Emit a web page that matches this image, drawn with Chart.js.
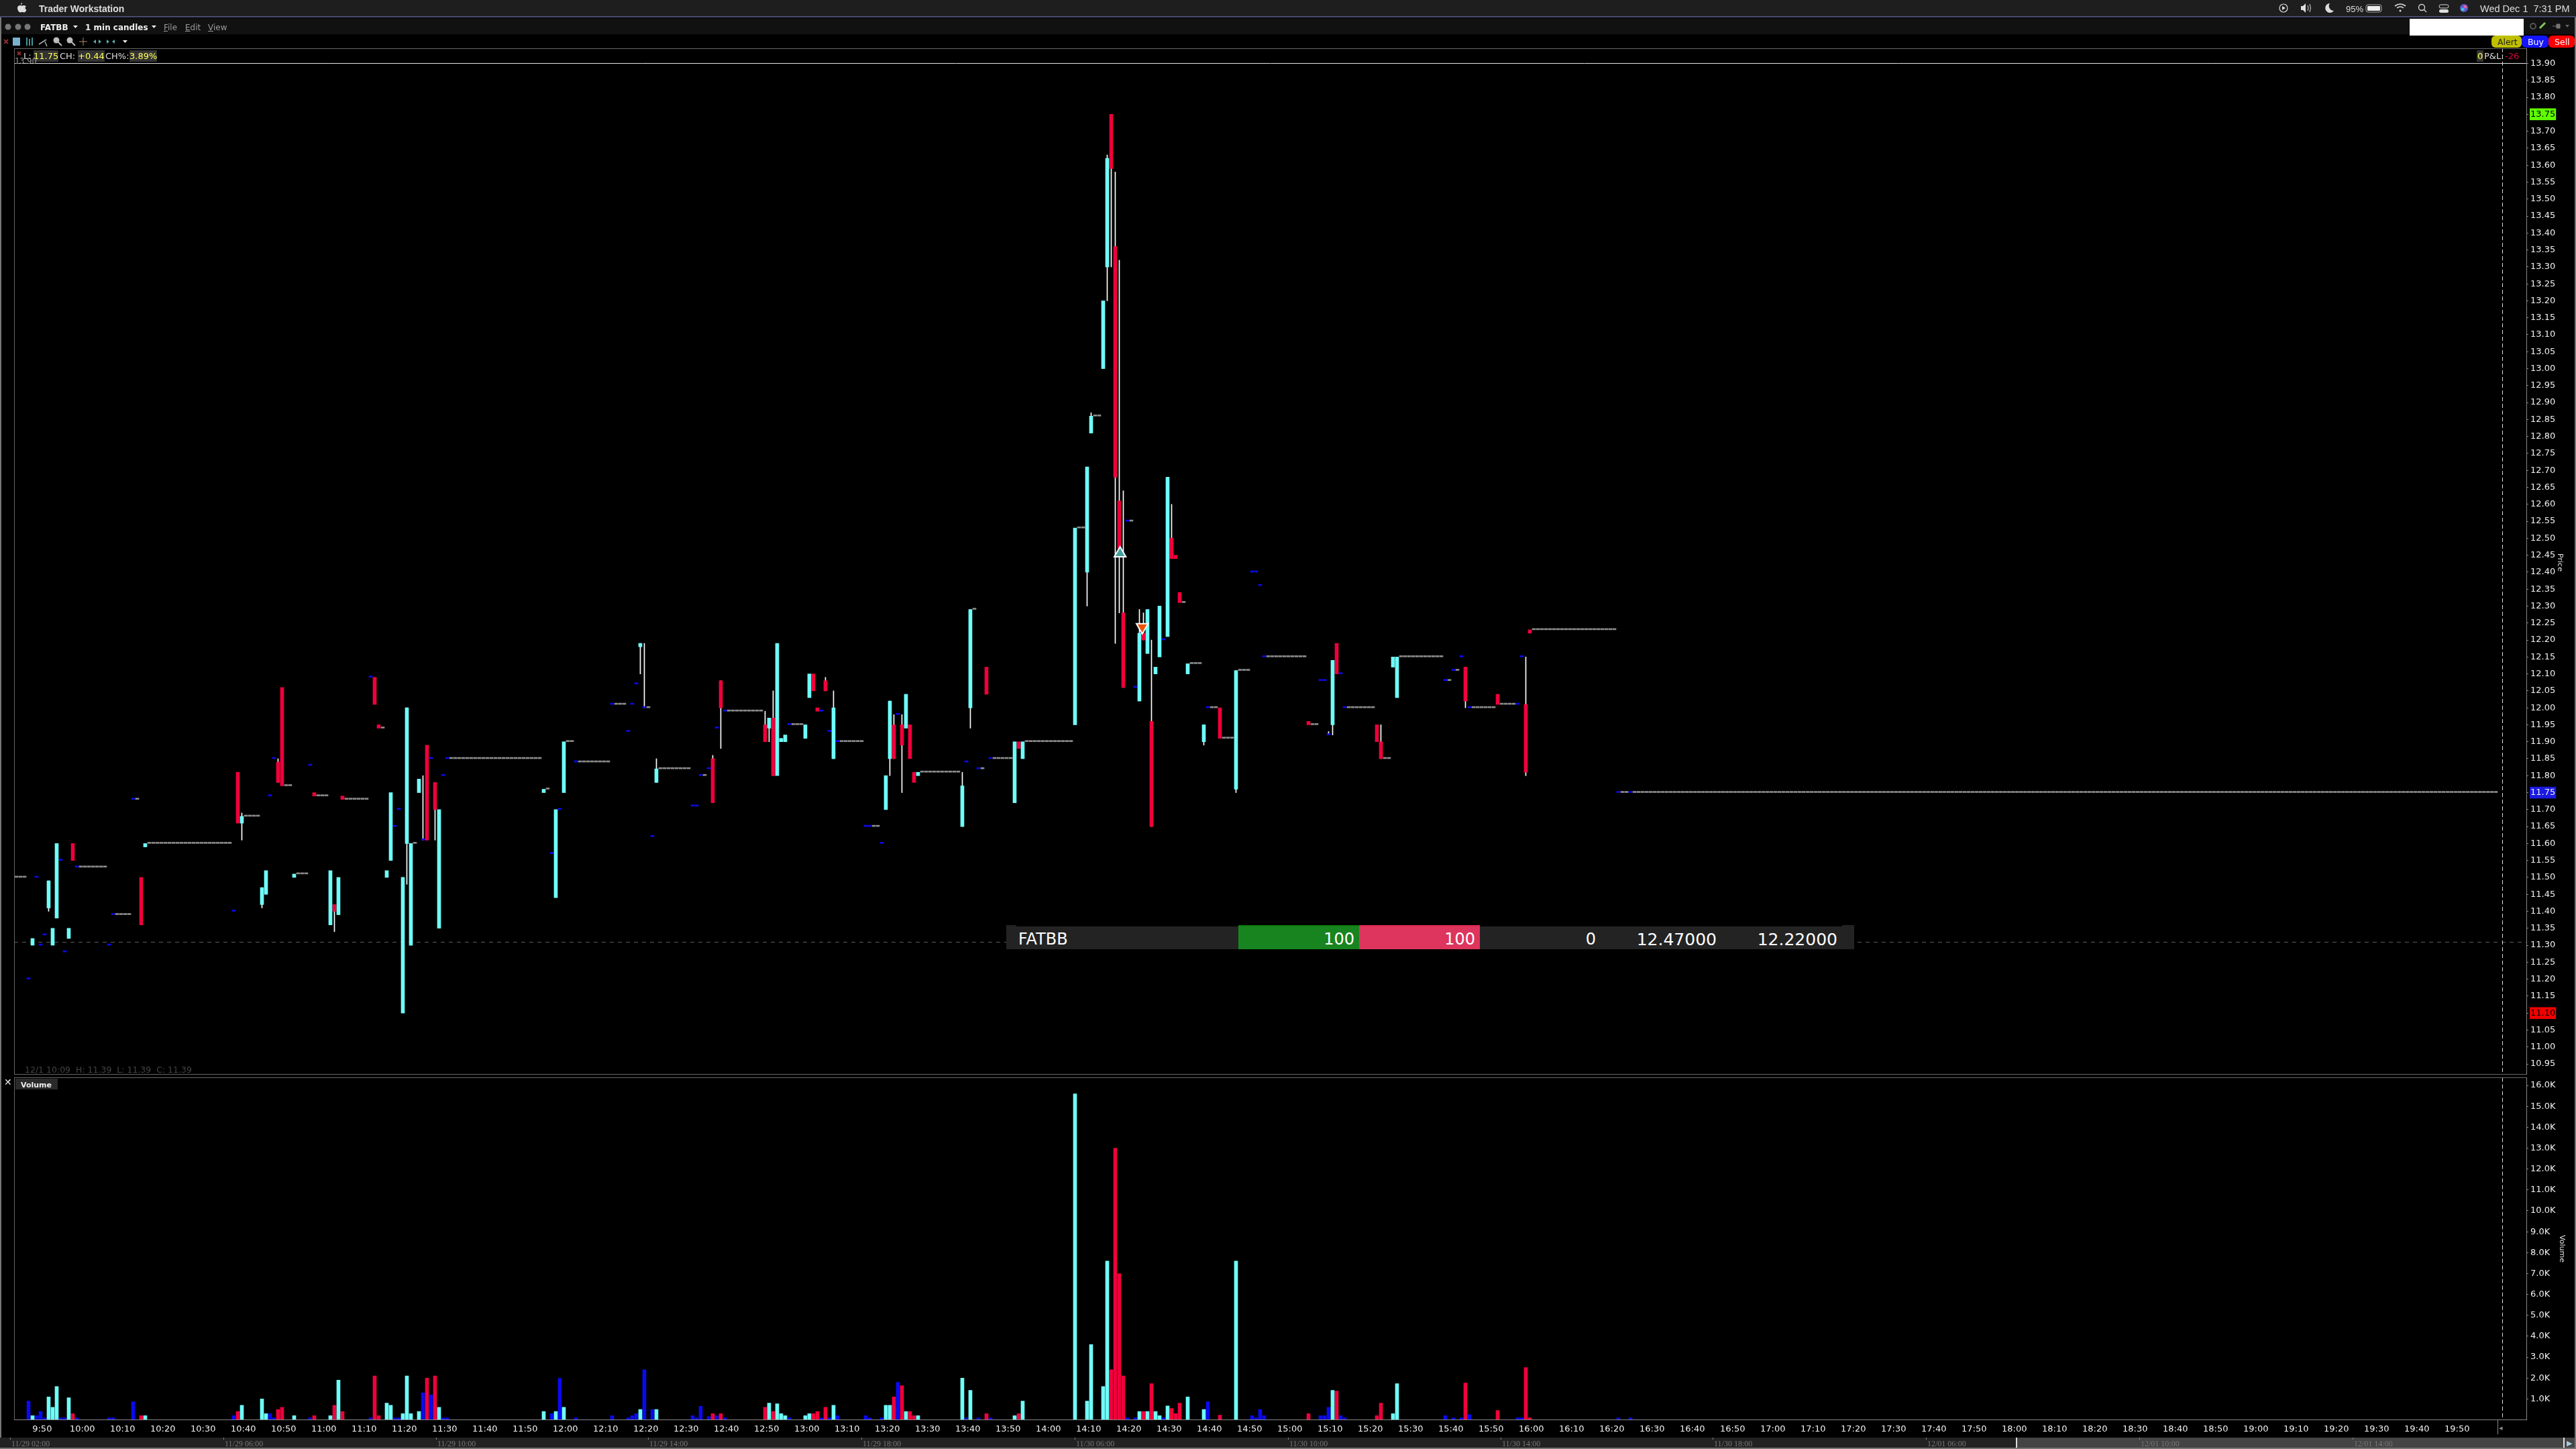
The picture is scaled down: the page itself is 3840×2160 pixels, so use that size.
<!DOCTYPE html>
<html><head><meta charset="utf-8"><title>FATBB 1 min candles</title>
<script src="https://cdn.jsdelivr.net/npm/chart.js@4/dist/chart.umd.min.js"></script>
<style>
html,body{margin:0;background:#000;width:3840px;height:2160px;overflow:hidden;font-family:"DejaVu Sans",sans-serif}
canvas{position:absolute;left:0}
.b{position:absolute}
.t{position:absolute;white-space:pre;line-height:1}
.hl{position:absolute;white-space:pre;line-height:1;background:#333;color:#ff5;padding:1px 0;font:13px 'DejaVu Sans';top:75px}
.s{position:absolute;white-space:pre;line-height:1;color:#ddd;font:13px 'DejaVu Sans';top:76px}
u{text-decoration-thickness:1px}
svg{position:absolute;left:0;top:0}
</style></head><body>
<div class="b" style="left:0;top:0;width:3840px;height:24px;background:#1e1e1e"></div>
<div class="b" style="left:0;top:24px;width:3840px;height:2px;background:#4a4a70"></div>
<div class="b" style="left:0;top:27px;width:3840px;height:24px;background:#111"></div>
<div class="b" style="left:0;top:26px;width:2px;height:2134px;background:#777"></div>
<div class="b" style="left:3838px;top:26px;width:2px;height:2134px;background:#777"></div>
<div class="b" style="left:3592px;top:28px;width:170px;height:25px;background:#fff"></div>

<canvas id="priceCanvas" width="3840" height="1604" style="top:0"></canvas>
<canvas id="volumeCanvas" width="3840" height="556" style="top:1604px"></canvas>

<!-- frames -->
<div class="b" style="left:21px;top:72px;width:3745px;height:1px;background:#666"></div>
<div class="b" style="left:21px;top:72px;width:1px;height:1530px;background:#666"></div>
<div class="b" style="left:21px;top:1601px;width:3745px;height:1px;background:#666"></div>
<div class="b" style="left:21px;top:1606px;width:3745px;height:1px;background:#666"></div>
<div class="b" style="left:21px;top:1606px;width:1px;height:511px;background:#666"></div>
<div class="b" style="left:21px;top:2116px;width:3745px;height:1px;background:#888"></div>

<svg width="3840" height="2160" xmlns="http://www.w3.org/2000/svg">
 <path d="M33 4c-1 0-2 1-2 3 1 0 2-1 2-3zM26 12c0-3 2-4 4-4 1 0 2 .6 3 .6s2-.6 3-.6c1 0 2 .5 3 1.500-2 1-2 4 .5 5-.7 2-2 4-3.500 4-1 0-1.500-.6-3-.6s-2 .6-3 .6c-2 0-4-4-4-6.500z" fill="#ddd"/>
 <g fill="#777"><circle cx="12" cy="40" r="4.500"/><circle cx="27" cy="40" r="4.500"/><circle cx="41" cy="40" r="4.500"/></g>
 <g fill="#eee"><path d="M109 38h7l-3.500 4zM226 38h7l-3.500 4z"/></g>
 <g stroke="#8a3030" stroke-width="2"><path d="M6 59l6 6M12 59l-6 6M26 77l5 5M31 77l-5 5"/></g>
 <rect x="19" y="56" width="11" height="12" fill="#7ab0d0"/>
 <g stroke="#5ac8c8" stroke-width="1.500"><path d="M40 56v12M44 58v10M48 56v12"/></g>
 <path d="M58 66l11-7M67 62l3 7" stroke="#aaa" stroke-width="1.500" fill="none"/>
 <g fill="#bbb"><circle cx="84" cy="60" r="4.500"/><circle cx="104" cy="60" r="4.500"/></g>
 <path d="M87 63l5 5M107 63l5 5" stroke="#bbb" stroke-width="2"/>
 <path d="M118 62h12M124 56v12" stroke="#b98c60" stroke-width="1"/>
 <g fill="#5ab0b0"><path d="M139 62l4-3v6zM151 62l-4-3v6zM159 59l4 3-4 3zM171 59l-4 3 4 3z"/></g>
 <path d="M183 60h7l-3.500 4z" fill="#eee"/>
 <!-- status icons -->
 <circle cx="3404" cy="12" r="6" fill="none" stroke="#ddd" stroke-width="1.200"/><path d="M3402 9l5 3-5 3z" fill="#ddd"/>
 <path d="M3430 9h3l4-4v14l-4-4h-3z" fill="#ddd"/><path d="M3440 8q2 4 0 8M3443 6q3 6 0 12" fill="none" stroke="#ddd"/>
 <path d="M3473 5a7 7 0 1 0 6 11a7 7 0 0 1-6-11z" fill="#ddd"/>
 <rect x="3527" y="7" width="23" height="11" rx="3" fill="none" stroke="#aaa"/><rect x="3529" y="9" width="19" height="7" rx="1" fill="#eee"/>
 <path d="M3570 9q8-6 16 0M3573 12q5-4 10 0" fill="none" stroke="#ddd" stroke-width="1.600"/><circle cx="3578" cy="16" r="1.500" fill="#ddd"/>
 <circle cx="3610" cy="11" r="4.500" fill="none" stroke="#ddd" stroke-width="1.300"/><path d="M3613 14l4 4" stroke="#ddd" stroke-width="1.300"/>
 <rect x="3636" y="7" width="14" height="5" rx="2.500" fill="none" stroke="#ddd"/><rect x="3636" y="14" width="14" height="5" rx="2.500" fill="#ddd"/>
 <circle cx="3673" cy="12" r="6" fill="#5a5ad0"/><circle cx="3671" cy="14" r="2.500" fill="#40c0d8"/><circle cx="3675" cy="10" r="2.500" fill="#e060a0"/>
 <circle cx="3776" cy="39" r="4" fill="none" stroke="#555" stroke-width="2"/>
 <path d="M3786 42l8-8" stroke="#7fc860" stroke-width="3"/>
 <path d="M3805 39h12M3811 36h5v6h-5z" stroke="#777" fill="#777"/><path d="M3824 37h6l-3 4z" fill="#666"/>
 <rect x="3714" y="53" width="45" height="18" rx="6" fill="#bfbf00"/>
 <rect x="3759" y="53" width="40" height="18" rx="6" fill="#1414ff"/>
 <rect x="3799" y="53" width="39" height="18" rx="6" fill="#f00"/>
 <path d="M5 2150l6-5v10z" fill="#9ab"/>
</svg>

<div class="t" style="left:58px;top:5px;font:bold 14px 'Liberation Sans';color:#ddd">Trader Workstation</div>
<div class="t" style="left:3497px;top:6px;font:13px 'Liberation Sans';color:#ddd">95%</div>
<div class="t" style="left:3697px;top:5px;font:14.500px 'Liberation Sans';color:#ddd">Wed Dec 1  7:31 PM</div>
<div class="t" style="left:60px;top:34px;font:bold 12px 'DejaVu Sans';color:#eee">FATBB</div>
<div class="t" style="left:127px;top:34px;font:bold 12px 'DejaVu Sans';color:#eee">1 min candles</div>
<div class="t" style="left:244px;top:34px;font:12px 'DejaVu Sans';color:#999"><u>F</u>ile</div>
<div class="t" style="left:276px;top:34px;font:12px 'DejaVu Sans';color:#999"><u>E</u>dit</div>
<div class="t" style="left:310px;top:34px;font:12px 'DejaVu Sans';color:#999"><u>V</u>iew</div>
<div class="t" style="left:3723px;top:55px;font:12.500px 'DejaVu Sans';color:#222">Alert</div>
<div class="t" style="left:3768px;top:55px;font:12.500px 'DejaVu Sans';color:#fff">Buy</div>
<div class="t" style="left:3808px;top:55px;font:12.500px 'DejaVu Sans';color:#fff">Sell</div>

<div class="s" style="left:35px">L:</div><div class="hl" style="left:50px">11.75</div>
<div class="s" style="left:89px">CH:</div><div class="hl" style="left:116px">+0.44</div>
<div class="s" style="left:157px">CH%:</div><div class="hl" style="left:193px">3.89%</div>
<div class="t" style="left:22px;top:84px;font:11.500px 'DejaVu Sans';color:#999">13.90</div>
<div class="hl" style="left:3692px;padding:1px 1px">0</div>
<div class="s" style="left:3703px">P&amp;L:</div>
<div class="t" style="left:3734px;top:76px;font:13px 'DejaVu Sans';color:#e0003c">-26</div>

<div class="t" style="left:37px;top:1587px;font:12.500px 'DejaVu Sans';color:#444">12/1 10:09  H: 11.39  L: 11.39  C: 11.39</div>
<div class="b" style="left:23px;top:1608px;width:63px;height:16px;background:#2a2a2a"></div>
<div class="t" style="left:31px;top:1611px;font:bold 11px 'DejaVu Sans';color:#eee">Volume</div>
<div class="t" style="left:6px;top:1605px;font:bold 14px 'DejaVu Sans';color:#eee">✕</div>
<div class="t" style="left:3803px;top:832px;font:11px 'DejaVu Sans';color:#ddd;transform:rotate(90deg)">Price</div>
<div class="t" style="left:3799px;top:1855px;font:11px 'DejaVu Sans';color:#ddd;transform:rotate(90deg)">Volume</div>

<!-- order bar -->
<div class="b" style="left:1500px;top:1379px;width:15px;height:3px;background:#222"></div>
<div class="b" style="left:2746px;top:1379px;width:18px;height:3px;background:#222"></div>
<div class="b" style="left:1500px;top:1381px;width:1264px;height:34px;background:#232323"></div>
<div class="b" style="left:1846px;top:1379px;width:180px;height:36px;background:#188420;border-top:2px solid #0b7a0b;box-sizing:border-box"></div>
<div class="b" style="left:2026px;top:1379px;width:180px;height:36px;background:#dd355d;border-top:2px solid #e0284f;box-sizing:border-box"></div>
<div class="t" style="left:1518px;top:1386px;font:24px 'DejaVu Sans';color:#fff">FATBB</div>
<div class="t" style="right:1821px;top:1386px;font:24px 'DejaVu Sans';color:#fff">100</div>
<div class="t" style="right:1641px;top:1386px;font:24px 'DejaVu Sans';color:#fff">100</div>
<div class="t" style="right:1461px;top:1386px;font:24px 'DejaVu Sans';color:#fff">0</div>
<div class="t" style="right:1281px;top:1386px;font:25px 'DejaVu Sans';color:#fff">12.47000</div>
<div class="t" style="right:1101px;top:1386px;font:25px 'DejaVu Sans';color:#fff">12.22000</div>

<!-- scroller -->
<div class="b" style="left:0;top:2143px;width:3007px;height:15px;background:#222"></div>
<div class="b" style="left:3007px;top:2143px;width:831px;height:15px;background:#444"></div>
<div class="b" style="left:0;top:2158px;width:3840px;height:2px;background:#777"></div>
<div class="b" style="left:3005px;top:2143px;width:2px;height:15px;background:#ddd"></div>
<div class="b" style="left:3821px;top:2143px;width:2px;height:15px;background:#ddd"></div>
<div class="b" style="left:3723px;top:2116px;width:1px;height:22px;background:#888"></div>
<div class="t" style="left:3725px;top:2122px;font:11px 'DejaVu Sans';color:#888">◂</div>
<div class="t" style="left:3826px;top:2145px;font:11px 'DejaVu Sans';color:#acd">▶</div>
<div id="navLabels"></div>

<script>
// Minutes from 9:47 on the 1-minute chart (traded bars only)
const firstMinute = 587;
const barIdx = [
0,1,2,3,4,5,6,7,8,9,
10,11,12,20,21,26,28,29,51,52,
53,58,59,60,61,62,63,66,70,71,
75,76,77,78,85,86,87,89,90,91,
92,93,94,95,97,98,99,100,101,102,
103,104,128,130,131,132,133,136,145,149,
150,151,152,153,155,156,165,166,167,169,
170,171,172,173,183,184,185,186,187,188,
189,193,194,195,196,197,198,199,200,201,
208,209,212,213,214,215,216,217,218,219,
220,221,232,233,234,236,238,239,245,246,
247,260,263,264,267,268,269,270,271,272,
273,275,276,277,278,279,280,281,282,283,
284,285,286,288,292,293,296,300,304,305,
306,307,318,321,322,323,324,325,326,327,
335,336,339,340,352,354,356,357,358,365,
370,371,372,373,395,398];
const opens = [
11.20,11.30,11.50,11.30,11.33,11.41,11.30,11.38,11.55,11.28,
11.32,11.60,11.53,11.30,11.39,11.73,11.50,11.59,11.40,11.81,
11.66,11.42,11.45,11.74,11.85,11.84,12.06,11.50,11.83,11.75,
11.36,11.42,11.39,11.74,12.09,12.09,11.95,11.50,11.55,11.65,
11.70,11.10,11.60,11.30,11.75,11.61,11.89,11.85,11.78,11.35,
11.80,11.85,11.75,11.57,11.44,11.70,11.75,11.84,12.01,11.93,
12.01,12.07,12.18,12.00,11.62,11.78,11.71,11.71,11.80,11.82,
11.85,11.94,12.08,11.99,11.95,11.94,11.97,11.80,11.90,11.90,
11.95,11.91,12.03,12.10,12.00,11.99,12.08,11.93,11.85,11.90,
11.65,11.65,11.60,11.70,11.85,11.95,11.98,11.95,11.94,11.95,
11.81,11.80,11.65,11.84,12.00,11.82,12.12,11.85,11.72,11.90,
11.85,11.95,12.40,12.81,13.00,13.30,13.75,13.36,12.61,12.28,
12.55,12.06,12.02,12.22,12.16,11.96,12.10,12.15,12.20,12.21,
12.50,12.45,12.34,12.10,11.90,12.00,12.00,11.76,12.40,12.40,
12.36,12.15,11.96,12.08,12.08,11.92,11.95,12.19,12.10,12.00,
11.95,11.90,12.12,12.03,12.08,12.11,12.15,12.12,12.00,12.04,
12.01,12.15,12.01,12.23,11.75,11.75];
const closes = [
11.20,11.32,11.50,11.30,11.33,11.49,11.35,11.60,11.55,11.28,
11.35,11.55,11.53,11.30,11.39,11.73,11.36,11.60,11.40,11.66,
11.68,11.47,11.52,11.74,11.85,11.78,11.77,11.51,11.83,11.74,
11.52,11.40,11.50,11.73,12.09,12.01,11.94,11.52,11.75,11.65,
11.70,11.50,12.00,11.60,11.79,11.61,11.61,11.85,11.70,11.70,
11.80,11.85,11.76,11.57,11.70,11.70,11.90,11.84,12.01,11.93,
12.01,12.07,12.19,12.00,11.62,11.82,11.71,11.71,11.80,11.82,
11.72,11.94,12.00,11.99,11.90,11.97,11.80,12.19,11.91,11.92,
11.95,11.95,12.10,12.05,11.99,11.99,12.05,11.93,12.00,11.90,
11.65,11.65,11.60,11.80,12.02,11.85,11.98,11.89,12.04,11.85,
11.78,11.81,11.77,11.84,12.29,11.82,12.04,11.85,11.90,11.88,
11.90,12.53,12.71,12.86,13.20,13.62,13.59,12.68,12.47,12.06,
12.55,12.06,12.22,12.20,12.29,11.65,12.12,12.30,12.20,12.68,
12.44,12.44,12.31,12.13,11.95,12.00,11.91,12.11,12.40,12.40,
12.36,12.15,11.95,12.08,12.08,11.92,12.14,12.10,12.10,12.00,
11.90,11.85,12.15,12.15,12.08,12.11,12.15,12.02,12.00,12.01,
12.01,12.15,11.81,12.22,11.75,11.75];
const volumes = [
900,200,200,400,100,1100,600,1600,100,100,
1060,300,100,100,100,870,200,200,200,400,
700,1000,300,300,100,500,600,200,100,200,
200,700,1900,400,100,2100,200,800,700,100,
100,300,2100,300,400,1300,2000,1200,2100,600,
100,100,400,300,400,1990,600,100,200,100,
200,300,500,2400,500,500,200,100,650,160,
300,200,300,100,600,800,400,770,300,200,
100,200,300,300,400,100,600,100,700,200,
200,100,100,700,700,1100,1800,1640,400,400,
200,200,2000,100,1410,100,300,100,200,300,
900,15600,900,3600,1600,7600,2400,13000,7000,2100,
100,100,400,400,400,1730,400,200,100,670,
550,300,800,1100,500,870,225,7600,200,100,
500,200,300,200,200,600,1410,1380,200,100,
200,800,300,1730,200,100,100,1765,250,450,
100,100,2500,100,100,100];
// Bars whose high/low reach beyond the body
const wickIdx  = [5,53,58,62,76,94,98,101,152,153,156,170,172,183,184,185,198,200,214,215,217,232,234,263,264,268,269,270,271,272,276,277,279,284,292,300,323,324,336,357,372];
const wickLow  = [11.40,11.61,11.41,11.78,11.34,11.48,11.61,11.61,12.10,12.00,11.78,11.72,11.88,11.90,11.90,11.80,12.05,11.85,11.80,11.85,11.75,11.65,11.94,12.30,12.81,13.20,13.30,12.19,12.28,12.06,12.02,12.20,11.65,12.44,11.89,11.75,11.92,11.92,11.85,12.00,11.80];
const wickHigh = [11.49,11.69,11.47,11.85,11.42,12.00,11.80,11.78,12.19,12.19,11.85,11.86,12.08,11.99,11.97,12.05,12.09,12.05,12.02,11.98,11.98,11.81,12.29,12.71,12.87,13.63,13.75,13.58,13.32,12.64,12.29,12.28,12.20,12.60,11.95,12.11,11.93,12.14,11.95,12.12,12.15];
// Minutes without trades: a flat dash at the last price
const flatFrom  = [-3,13,22,27,30,54,64,67,72,79,88,96,105,129,134,137,146,154,157,168,174,190,202,210,222,235,237,240,248,261,265,274,287,289,294,297,301,308,319,328,337,341,353,355,359,366,374,396,399];
const flatTo    = [-1,19,25,27,50,57,65,69,74,84,88,96,127,129,135,144,148,154,164,168,182,192,207,211,231,235,237,244,259,262,266,274,287,291,295,299,303,317,320,334,338,351,353,355,364,369,394,397,613];
const flatPrice = [11.50,11.53,11.39,11.73,11.60,11.68,11.77,11.51,11.74,11.73,11.94,11.60,11.85,11.76,11.90,11.84,12.01,12.00,11.82,11.80,11.99,11.95,11.90,11.65,11.81,12.29,11.82,11.85,11.90,12.53,12.86,12.55,12.31,12.13,12.00,11.91,12.11,12.15,11.95,12.00,11.85,12.15,12.08,12.11,12.00,12.01,12.23,11.75,11.75];
// Order fill markers
const buyFill = {idx:271.2, price:12.455};
const sellFill = {idx:276.7, price:12.238};
const limitLine = 11.31, topLine = 13.90, cursorIdx = 614.667;

const priceTicks = [13.90,13.85,13.80,13.75,13.70,13.65,13.60,13.55,13.50,13.45,13.40,13.35,13.30,13.25,13.20,13.15,13.10,13.05,13.00,12.95,12.90,12.85,12.80,12.75,12.70,12.65,12.60,12.55,12.50,12.45,12.40,12.35,12.30,12.25,12.20,12.15,12.10,12.05,12.00,11.95,11.90,11.85,11.80,11.75,11.70,11.65,11.60,11.55,11.50,11.45,11.40,11.35,11.30,11.25,11.20,11.15,11.10,11.05,11.00,10.95];
const volumeTicks = [1000,2000,3000,4000,5000,6000,7000,8000,9000,10000,11000,12000,13000,14000,15000,16000];
const timeLabels = ['9:50','10:00','10:10','10:20','10:30','10:40','10:50','11:00','11:10','11:20','11:30','11:40','11:50','12:00','12:10','12:20','12:30','12:40','12:50','13:00','13:10','13:20','13:30','13:40','13:50','14:00','14:10','14:20','14:30','14:40','14:50','15:00','15:10','15:20','15:30','15:40','15:50','16:00','16:10','16:20','16:30','16:40','16:50','17:00','17:10','17:20','17:30','17:40','17:50','18:00','18:10','18:20','18:30','18:40','18:50','19:00','19:10','19:20','19:30','19:40','19:50'];
const navLabels = ['11/29 02:00','11/29 06:00','11/29 10:00','11/29 14:00','11/29 18:00','11/30 06:00','11/30 10:00','11/30 14:00','11/30 18:00','12/01 06:00','12/01 10:00','12/01 14:00'];

const CYAN='#6ffffa', RED='#f0003c', BLUE='#0a0af0', GRAY='#8c8c8c';
const minuteOf = s => { const [h,m]=s.split(':').map(Number); return h*60+m; };
const labelOf = new Map(timeLabels.map(s=>[minuteOf(s),s]));
const pick = (test,fn)=>barIdx.map((b,k)=>test(k)?{x:firstMinute+b,y:fn(k)}:null).filter(Boolean);
const up=k=>closes[k]>opens[k], down=k=>closes[k]<opens[k], doji=k=>closes[k]===opens[k];
const body=k=>[opens[k],closes[k]];
const vol=k=>[0,volumes[k]];

const flats=[];
flatFrom.forEach((f,r)=>{ for(let b=f;b<=flatTo[r];b++) flats.push({x:firstMinute+b,y:[flatPrice[r],flatPrice[r]]}); });
const wicks=wickIdx.map((b,r)=>({x:firstMinute+b,y:[wickLow[r],wickHigh[r]]}));

// 6 px per minute across a 3745 px wide plot; bar centres land on pixel centres
const XMIN=583.41667, XMAX=583.41667+3745/6;
const barDs=(data,color,thick,order,extra)=>Object.assign({data,backgroundColor:color,barThickness:thick,grouped:false,order,borderWidth:0,minBarLength:2},extra||{});

Chart.defaults.font.family="'DejaVu Sans'";
Chart.defaults.font.size=13;

const fixWidth=s=>{s.width=74;s.paddingTop=0;s.paddingBottom=0;};
function drawLine(ctx,x1,y1,x2,y2,color,dash){ctx.save();ctx.beginPath();ctx.strokeStyle=color;ctx.lineWidth=1;ctx.setLineDash(dash);ctx.moveTo(x1,y1);ctx.lineTo(x2,y2);ctx.stroke();ctx.restore();}
const axisGrid={display:true,drawOnChartArea:false,drawTicks:true,tickLength:3,tickColor:'#888'};
// Pin the plot's bottom edge: the layout reserves a few px for tick labels, so grow the (transparent) canvas by that much
const pinBottom=(ch,target)=>{const d=target-ch.chartArea.bottom;if(Math.abs(d)>=0.5)ch.resize(ch.width,Math.round(ch.height+d));};

const priceChart=new Chart(document.getElementById('priceCanvas'),{
 type:'bar',
 data:{datasets:[
  barDs(wicks,'#ffffff',1,5,{minBarLength:0}),
  barDs(flats,GRAY,5,4),
  barDs(pick(up,body),CYAN,5,3),
  barDs(pick(down,body),RED,5,3),
  barDs(pick(doji,body),BLUE,5,3),
  {type:'scatter',data:[{x:firstMinute+buyFill.idx,y:buyFill.price}],pointStyle:'triangle',pointRadius:10,backgroundColor:'#45a0a0',borderColor:'#fff',borderWidth:2,order:0},
  {type:'scatter',data:[{x:firstMinute+sellFill.idx,y:sellFill.price}],pointStyle:'triangle',rotation:180,pointRadius:10,backgroundColor:'#f05000',borderColor:'#fff',borderWidth:2,order:0}
 ]},
 options:{responsive:false,maintainAspectRatio:false,animation:false,devicePixelRatio:1,
  layout:{padding:{left:21,top:72,right:0,bottom:2.6}},
  plugins:{legend:{display:false},tooltip:{enabled:false}},
  scales:{
   x:{type:'linear',bounds:'data',display:false,offset:false,min:XMIN,max:XMAX,grid:{display:false,drawTicks:false},ticks:{display:false},afterFit:s=>{s.height=0;s.paddingLeft=0;s.paddingRight=0;}},
   y:{position:'right',bounds:'data',min:10.9204,max:13.9445,afterFit:fixWidth,
      afterBuildTicks:s=>{s.ticks=priceTicks.map(v=>({value:v}));},
      grid:axisGrid,
      border:{display:true,color:'#888'},
      ticks:{autoSkip:false,padding:3,callback:v=>v.toFixed(2),
        color:c=>{const v=c.tick.value;return (v===13.75||v===11.10)?'#000':'#f0f0f0';},
        showLabelBackdrop:c=>{const v=c.tick.value;return v===13.75||v===11.10||v===11.75;},
        backdropColor:c=>{const v=c.tick.value;return v===13.75?'#5fff00':v===11.10?'#f00000':v===11.75?'#1a1ae0':'transparent';},
        backdropPadding:1}}
  }},
 plugins:[{id:'lines',beforeDatasetsDraw(ch){const {ctx,chartArea:a,scales:{y}}=ch;
    const snap=v=>Math.round(y.getPixelForValue(v))+0.5;
    drawLine(ctx,a.left,snap(limitLine),a.right,snap(limitLine),'#5a5a5a',[6,6]);
    drawLine(ctx,a.left,snap(topLine),a.right,snap(topLine),'#e6e6e6',[]);
  },afterDatasetsDraw(ch){const {ctx,chartArea:a,scales:{x}}=ch;
    const px=x.getPixelForValue(firstMinute+cursorIdx);drawLine(ctx,px,a.top,px,a.bottom,'#ddd',[6,4]);}}]
});
pinBottom(priceChart,1601.4);

const volumeChart=new Chart(document.getElementById('volumeCanvas'),{
 type:'bar',
 data:{datasets:[
  barDs(pick(up,vol),CYAN,5,3,{minBarLength:0}),
  barDs(pick(down,vol),RED,5,3,{minBarLength:0}),
  barDs(pick(doji,vol),BLUE,5,3,{minBarLength:0})
 ]},
 options:{responsive:false,maintainAspectRatio:false,animation:false,devicePixelRatio:1,
  layout:{padding:{left:21,top:2.6,right:0,bottom:0}},
  plugins:{legend:{display:false},tooltip:{enabled:false}},
  scales:{
   x:{type:'linear',bounds:'data',offset:false,min:XMIN,max:XMAX,
      afterFit:s=>{s.height=43.4;s.paddingLeft=0;s.paddingRight=0;},
      afterBuildTicks:s=>{s.ticks=timeLabels.map(t=>({value:minuteOf(t)}));},
      grid:{display:false,drawTicks:false},border:{display:false},
      ticks:{autoSkip:false,maxRotation:0,minRotation:0,padding:6,labelOffset:2.3,color:'#f0f0f0',callback:v=>labelOf.get(v)}},
   y:{position:'right',bounds:'data',min:0,max:16367,afterFit:fixWidth,
      afterBuildTicks:s=>{s.ticks=volumeTicks.map(v=>({value:v}));},
      grid:axisGrid,
      border:{display:true,color:'#888'},
      ticks:{autoSkip:false,padding:3,color:'#f0f0f0',callback:v=>(v/1000).toFixed(1)+'K'}}
  }},
 plugins:[{id:'cursor',afterDatasetsDraw(ch){const {ctx,chartArea:a,scales:{x}}=ch;
    const px=x.getPixelForValue(firstMinute+cursorIdx);drawLine(ctx,px,a.top,px,a.bottom,'#ddd',[6,4]);}}]
});
pinBottom(volumeChart,512.6);

// Date scroller labels
const navX=[15,333,650,966,1284,1602,1920,2237,2553,2871,3189,3507];
const host=document.getElementById('navLabels');
navLabels.forEach((s,i)=>{
  const tick=document.createElement('div');tick.className='b';
  tick.style.cssText=`left:${navX[i]}px;top:2143px;width:1px;height:3px;background:#888`;host.appendChild(tick);
  const d=document.createElement('div');d.className='t';d.textContent=s;
  d.style.cssText=`left:${navX[i]+2}px;top:2145px;font:12px 'Liberation Serif';color:#777`;host.appendChild(d);
});
</script>
</body></html>
